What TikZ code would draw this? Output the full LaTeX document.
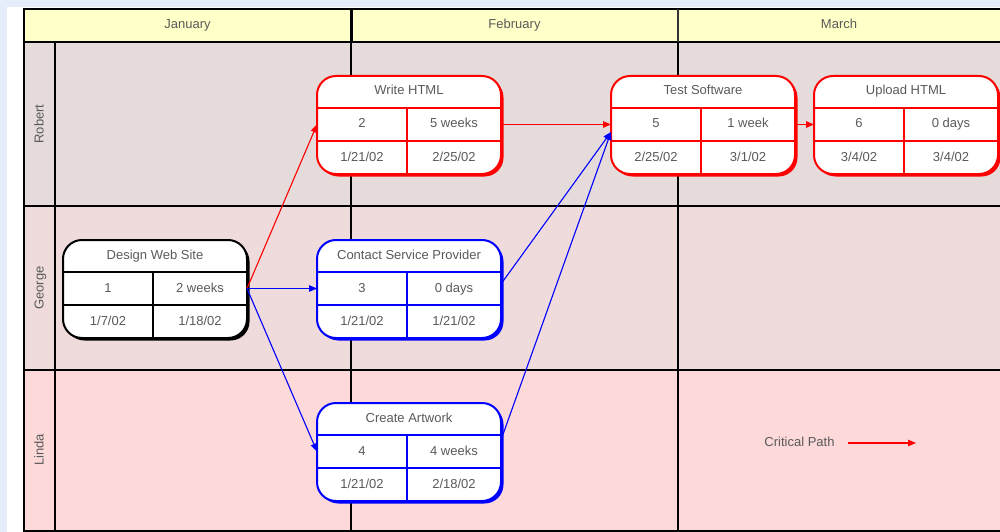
\documentclass[tikz,border=0pt]{standalone}
\usepackage{fontspec}
\setmainfont{Liberation Sans}
\usetikzlibrary{arrows.meta}

\definecolor{bgblue}{HTML}{E6EDFA}
\definecolor{hdrfill}{HTML}{FFFFC8}
\definecolor{laneA}{HTML}{E5DBDB}
\definecolor{laneB}{HTML}{EFDBDB}
\definecolor{laneC}{HTML}{FDD9D9}
\definecolor{txtgray}{HTML}{5A5A5A}
\definecolor{crit}{HTML}{FF0000}
\definecolor{norm}{HTML}{0000FF}

\tikzset{
  lbl/.style={text=txtgray, font=\fontsize{13}{15}\selectfont, inner sep=0pt,
    text height=9.5pt, text depth=2.5pt},
  gridline/.style={draw=black, line width=2pt},
  taskframe/.style={rectangle, rounded corners=19pt, fill=white, line width=2pt,
    minimum width=184pt, minimum height=98pt, inner sep=0pt, outer sep=0pt},
  link/.style={line width=1.1pt, -{Triangle[length=8pt,width=6.5pt]}},
}

% #1 name, #2 left, #3 top, #4 colour, #5 title, #6 id, #7 duration, #8 start, #9 finish
\newcommand\taskbox[9]{%
  \fill[#4, rounded corners=19pt] (#2+2.5,#3+2.5) rectangle (#2+186.5,#3+100.5);
  \node[taskframe, draw=#4, anchor=north west] (#1) at (#2,#3) {};
  \draw[#4, line width=2pt] (#2,#3+32) -- (#2+184,#3+32)
                            (#2,#3+65) -- (#2+184,#3+65)
                            (#2+90,#3+32) -- (#2+90,#3+98);
  \node[lbl] (#1-title) at (#2+92,#3+15.5) {#5};
  \node[lbl] (#1-id)    at (#2+45,#3+48.5) {#6};
  \node[lbl] (#1-dur)   at (#2+137,#3+48.5) {#7};
  \node[lbl] (#1-start) at (#2+45,#3+81.5) {#8};
  \node[lbl] (#1-end)   at (#2+137,#3+81.5) {#9};
  \coordinate (#1-in)  at (#2,#3+48.5);
  \coordinate (#1-out) at (#2+184,#3+48.5);
}

\begin{document}
\begin{tikzpicture}[x=1pt,y=-1pt]
\useasboundingbox (0,0) rectangle (1000,532);

% page backdrop
\fill[white] (0,0) rectangle (1000,532);
\fill[bgblue] (0,0) rectangle (1000,7);
\fill[bgblue] (0,0) rectangle (7,532);

% header and swimlanes
\fill[hdrfill] (24,9) rectangle (1004,42);
\fill[laneA] (24,42) rectangle (1004,206);
\fill[laneB] (24,206) rectangle (1004,370);
\fill[laneC] (24,370) rectangle (1004,531);

\draw[gridline] (1004,9) -- (24,9) -- (24,531) -- (1004,531);
\draw[gridline] (24,42) -- (1004,42);
\draw[gridline] (24,206) -- (1004,206);
\draw[gridline] (24,370) -- (1004,370);
\draw[gridline] (55,42) -- (55,531);
\draw[draw=black, line width=3pt] (351,9) -- (351,42);
\draw[gridline] (351,42) -- (351,531);
\draw[draw=black!80, line width=1.2pt] (678,9) -- (678,42);
\draw[gridline] (678,42) -- (678,531);

\node[lbl] (jan) at (187.5,25.5) {January};
\node[lbl] (feb) at (514.5,25.5) {February};
\node[lbl] (mar) at (839,25.5) {March};

\node[lbl, rotate=90] (robert) at (40,124) {Robert};
\node[lbl, rotate=90] (george) at (40,288) {George};
\node[lbl, rotate=90] (linda)  at (40,450) {Linda};

% tasks
\taskbox{design}{63}{240}{black}{Design Web Site}{1}{2 weeks}{1/7/02}{1/18/02}
\taskbox{write}{317}{76}{crit}{Write HTML}{2}{5 weeks}{1/21/02}{2/25/02}
\taskbox{contact}{317}{240}{norm}{Contact Service Provider}{3}{0 days}{1/21/02}{1/21/02}
\taskbox{artwork}{317}{403}{norm}{Create Artwork}{4}{4 weeks}{1/21/02}{2/18/02}
\taskbox{test}{611}{76}{crit}{Test Software}{5}{1 week}{2/25/02}{3/1/02}
\taskbox{upload}{814}{76}{crit}{Upload HTML}{6}{0 days}{3/4/02}{3/4/02}

\coordinate (contact-up) at (501,284);
\coordinate (artwork-up) at (501,440);
\coordinate (test-low) at (611,132);

% dependencies
\draw[link, crit] (design-out) -- (write-in);
\draw[link, norm] (design-out) -- (contact-in);
\draw[link, norm] (design-out) -- (artwork-in);
\draw[link, crit] (write-out) -- (test-in);
\draw[link, norm] (contact-up) -- (test-low);
\draw[link, norm] (artwork-up) -- (test-low);
\draw[link, crit] (test-out) -- (upload-in);

% legend
\node[lbl] (legend) at (799.5,443) {Critical Path};
\coordinate (legend-end) at (916,443);
\draw[link, crit] (legend.east) ++(13,0) coordinate (legend-start) -- (legend-end);
\end{tikzpicture}
\end{document}
